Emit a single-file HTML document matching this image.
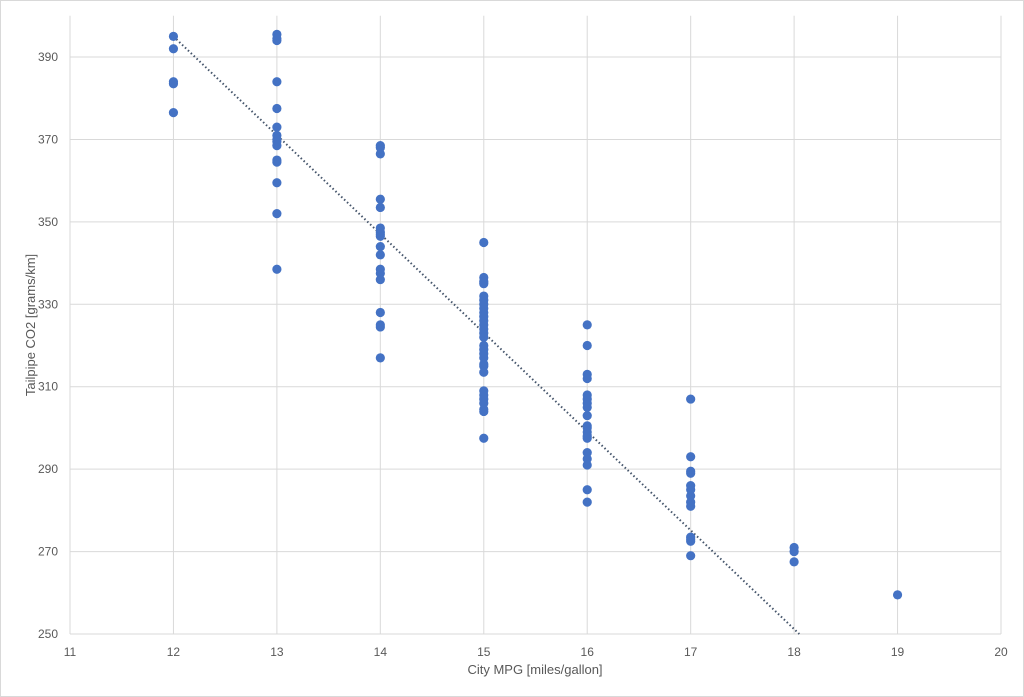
<!DOCTYPE html>
<html><head><meta charset="utf-8"><style>
html,body{margin:0;padding:0;background:#fff}
svg{display:block;font-family:"Liberation Sans",sans-serif}
</style></head><body>
<svg id="chart" width="1024" height="697" viewBox="0 0 1024 697">
<rect x="0.5" y="0.5" width="1023" height="696" fill="#fff" stroke="#d9d9d9"/>
<g id="grid"></g>
<g id="ticks"></g>
<g id="trend"></g>
<g id="pts"></g>
<text x="535" y="674" font-size="13" fill="#595959" text-anchor="middle">City MPG [miles/gallon]</text>
<text transform="translate(35,325) rotate(-90)" font-size="13" fill="#595959" text-anchor="middle">Tailpipe CO2 [grams/km]</text>
</svg>
<script>
const xTicks=[11,12,13,14,15,16,17,18,19,20];
const yTicks=[250,270,290,310,330,350,370,390];
const mpg12=[395,392,384,383.5,376.5];
const mpg13=[395.5,394.5,394,384,377.5,373,371,370,369.5,368.5,365,364.5,359.5,352,338.5];
const mpg14=[368.5,368,366.5,355.5,353.5,348.5,347.5,347,346.5,344,342,338.5,337.5,336,328,325,324.5,317];
const mpg15=[345,336.5,335.5,335,332,331,330,329,328,327,326,325,324,323,322,320,319,318,317,315.5,315,313.5,309,308,307,306,304.5,304,297.5];
const mpg16=[325,320,313,312,308,307,306,305,303,300.5,300,299,298,297.5,294,292.5,291,285,282];
const mpg17=[307,293,289.5,289,286,285,283.5,282,281,273.5,273,272.5,269];
const mpg18=[271,270,267.5];
const mpg19=[259.5];
const trendX=[12,18.05];
const trendY=[395,250];

const NS="http://www.w3.org/2000/svg";
const X0=70,X1=1001,Y0=634,Y1=15.8;
const xs=v=>X0+(v-11)/(20-11)*(X1-X0);
const ys=v=>Y0-(v-250)/(400-250)*(Y0-Y1);
function mk(tag,attrs,parent){const e=document.createElementNS(NS,tag);for(const k in attrs)e.setAttribute(k,attrs[k]);parent.appendChild(e);return e;}
const grid=document.getElementById('grid'),ticks=document.getElementById('ticks'),pts=document.getElementById('pts'),trend=document.getElementById('trend');
xTicks.forEach(t=>{
 const l=mk('line',{x1:xs(t),x2:xs(t),y1:Y1,y2:Y0,stroke:'#d9d9d9','stroke-width':1},grid);
 
 
 const tx=mk('text',{x:xs(t),y:Y0+22,'font-size':12,fill:'#595959','text-anchor':'middle'},ticks);
 tx.textContent=t;
 
 
});
yTicks.forEach(t=>{
 const l=mk('line',{x1:X0,x2:X1,y1:ys(t),y2:ys(t),stroke:'#d9d9d9','stroke-width':1},grid);
 
 
 const tx=mk('text',{x:X0-12,y:ys(t)+4,'font-size':12,fill:'#595959','text-anchor':'end'},ticks);
 tx.textContent=t;
 
 
});
const tl=mk('line',{x1:xs(trendX[0]),y1:ys(trendY[0]),x2:xs(trendX[1]),y2:ys(trendY[1]),stroke:'#44546a','stroke-width':2,'stroke-dasharray':'1.5 2.5'},trend);


const series=[[12,mpg12],[13,mpg13],[14,mpg14],[15,mpg15],[16,mpg16],[17,mpg17],[18,mpg18],[19,mpg19]];
series.forEach(([m,arr])=>arr.forEach(v=>{
 const c=mk('circle',{cx:xs(m),cy:ys(v),r:4.6,fill:'#4472c4'},pts);
 
 
}));
</script>
</body></html>
